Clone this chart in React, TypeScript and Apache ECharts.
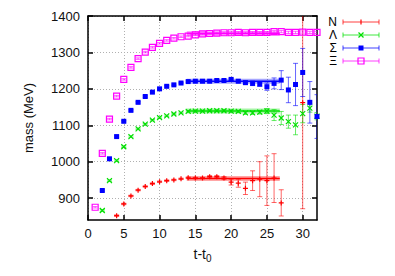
import React, { useEffect, useRef } from "react";
import * as echarts from "echarts";

// ---- data ----
const tN = [4, 5, 6, 7, 8, 9, 10, 11, 12, 13, 14, 15, 16, 17, 18, 19, 20, 21, 22, 23, 24, 25, 26, 27, 30];
const massN = [852, 884, 906, 922, 932, 940, 945, 948, 950, 953, 956, 955, 955, 959, 959, 955, 944, 941, 927, 948, 952, 948, 955, 887, 1162];
const errN = [2, 2, 2, 2, 2, 2, 2, 2, 2, 2, 2, 2, 2, 3, 3, 4, 8, 11, 17, 27, 48, 68, 67, 36, 291];

const tL = [2, 3, 4, 5, 6, 7, 8, 9, 10, 11, 12, 13, 14, 15, 16, 17, 18, 19, 20, 21, 22, 23, 24, 25, 26, 27, 28, 29, 30, 31, 32];
const massL = [866, 948, 1003, 1041, 1069, 1090, 1103, 1114, 1121, 1126, 1131, 1134, 1138, 1139, 1139, 1140, 1140, 1140, 1139, 1138, 1134, 1134, 1136, 1139, 1128, 1120, 1110, 1101, 1132, 1147, 1125];
const errL = [2, 2, 2, 2, 2, 2, 2, 2, 2, 2, 2, 2, 2, 2, 2, 2, 2, 3, 3, 3, 4, 4, 5, 7, 15, 18, 18, 27, 25, 11, 10];

const tS = [2, 3, 4, 5, 6, 7, 8, 9, 10, 11, 12, 13, 14, 15, 16, 17, 18, 19, 20, 21, 22, 23, 24, 25, 26, 27, 28, 29, 30, 31, 32];
const massS = [921, 1008, 1069, 1111, 1141, 1163, 1179, 1191, 1200, 1207, 1211, 1216, 1220, 1221, 1221, 1221, 1223, 1223, 1226, 1221, 1217, 1215, 1213, 1206, 1215, 1224, 1197, 1212, 1245, 1163, 1124];
const errS = [2, 2, 2, 2, 2, 2, 2, 2, 2, 2, 2, 2, 2, 2, 2, 2, 3, 3, 3, 4, 5, 6, 6, 10, 15, 26, 35, 58, 66, 57, 60];

const tX = [1, 2, 3, 4, 5, 6, 7, 8, 9, 10, 11, 12, 13, 14, 15, 16, 17, 18, 19, 20, 21, 22, 23, 24, 25, 26, 27, 28, 29, 30, 31, 32];
const massX = [875, 1023, 1117, 1180, 1226, 1259, 1283, 1301, 1314, 1325, 1333, 1339, 1343, 1345, 1348, 1351, 1352, 1353, 1354, 1354, 1355, 1354, 1355, 1355, 1355, 1357, 1357, 1355, 1355, 1356, 1355, 1355];
const errX = [2, 2, 2, 2, 2, 2, 2, 2, 2, 2, 2, 2, 2, 2, 2, 2, 2, 2, 2, 2, 2, 2, 2, 2, 2, 3, 3, 3, 3, 3, 3, 3];

const fitRange = [13.8, 26.8];
const fitN = 954;
const fitL = 1139;
const fitS = 1221;
const fitX = 1352;

const legendNames = ["N", "Λ", "Σ", "Ξ"];
const xTicks = [0, 5, 10, 15, 20, 25, 30];
const yTicks = [900, 1000, 1100, 1200, 1300, 1400];

const RED = "#ff0000";
const GREEN = "#00e000";
const BLUE = "#0000ff";
const MAGENTA = "#ff00ff";

const FONT = "Liberation Sans";

const PLUS = "path://M0,5L10,5M5,0L5,10";
const CROSS = "path://M0,0L10,10M10,0L0,10";

function errSeries(color: string, t: number[], m: number[], e: number[]) {
  return {
    type: "custom",
    clip: true,
    z: 2,
    data: t.map((x, i) => [x, m[i], e[i]]),
    encode: { x: 0, y: 1 },
    renderItem: (params: any, api: any) => {
      const x = api.value(0);
      const y = api.value(1);
      const er = api.value(2);
      const top = api.coord([x, y + er]);
      const bot = api.coord([x, y - er]);
      const hw = 2.5;
      const st = { stroke: color, lineWidth: 1, opacity: 0.6 };
      return {
        type: "group",
        children: [
          { type: "line", shape: { x1: top[0], y1: top[1], x2: bot[0], y2: bot[1] }, style: st },
          { type: "line", shape: { x1: top[0] - hw, y1: top[1], x2: top[0] + hw, y2: top[1] }, style: st },
          { type: "line", shape: { x1: bot[0] - hw, y1: bot[1], x2: bot[0] + hw, y2: bot[1] }, style: st },
        ],
      };
    },
  };
}

function pointSeries(color: string, t: number[], m: number[], symbol: string, size: number, open: boolean, stroke: boolean) {
  return {
    type: "scatter",
    z: 3,
    symbol,
    symbolSize: size,
    data: t.map((x, i) => [x, m[i]]),
    itemStyle: {
      color: open ? "rgba(0,0,0,0)" : color,
      borderColor: color,
      borderWidth: stroke || open ? 1.2 : 0,
      opacity: 1,
    },
  };
}

function fitSeries(color: string, v: number) {
  return [
    {
      type: "line",
      z: 4,
      symbol: "none",
      data: fitRange.map((x) => [x, v]),
      lineStyle: { color, width: 5, opacity: 0.35 },
    },
    {
      type: "line",
      z: 4,
      symbol: "none",
      data: fitRange.map((x) => [x, v]),
      lineStyle: { color, width: 1.5 },
    },
  ];
}

function legendGraphic() {
  const colors = [RED, GREEN, BLUE, MAGENTA];
  const ys = [22, 35, 48, 61];
  const x1 = 343;
  const x2 = 379;
  const xm = 361;
  const els: any[] = [];
  legendNames.forEach((name, i) => {
    const y = ys[i];
    const c = colors[i];
    const st = { stroke: c, lineWidth: 1, opacity: 0.75 };
    els.push({
      type: "text",
      x: 337,
      y: y,
      style: {
        text: name,
        font: `12px "${FONT}"`,
        fill: "#000",
        align: "right",
        verticalAlign: "middle",
        lineHeight: 12,
      },
    });
    els.push({ type: "line", shape: { x1, y1: y, x2, y2: y }, style: st });
    els.push({ type: "line", shape: { x1, y1: y - 2.5, x2: x1, y2: y + 2.5 }, style: st });
    els.push({ type: "line", shape: { x1: x2, y1: y - 2.5, x2: x2, y2: y + 2.5 }, style: st });
    if (i === 0) {
      els.push({ type: "line", shape: { x1: xm, y1: y - 2.5, x2: xm, y2: y + 2.5 }, style: { stroke: c, lineWidth: 1.2 } });
    } else if (i === 1) {
      els.push({ type: "line", shape: { x1: xm - 2.5, y1: y - 2.5, x2: xm + 2.5, y2: y + 2.5 }, style: { stroke: c, lineWidth: 1.2 } });
      els.push({ type: "line", shape: { x1: xm + 2.5, y1: y - 2.5, x2: xm - 2.5, y2: y + 2.5 }, style: { stroke: c, lineWidth: 1.2 } });
    } else if (i === 2) {
      els.push({ type: "rect", shape: { x: xm - 2.5, y: y - 2.5, width: 5, height: 5 }, style: { fill: c } });
    } else {
      els.push({ type: "rect", shape: { x: xm - 3, y: y - 3, width: 6, height: 6 }, style: { fill: "none", stroke: c, lineWidth: 1.2 } });
    }
  });
  return els;
}

export default function App() {
  const ref = useRef<HTMLDivElement>(null);
  useEffect(() => {
    if (!ref.current) return;
    const chart = echarts.init(ref.current, undefined, { renderer: "svg" });
    const axisLine = { show: true, onZero: false, lineStyle: { color: "#000", width: 1.5 } };
    const axisTick = { show: true, inside: true, length: 5, lineStyle: { color: "#000", width: 1.5 } };
    const splitLine = { show: true, lineStyle: { color: "#b0b0b0", type: [1, 2], width: 1 } };
    const labelStyle = { color: "#111", fontSize: 13, fontFamily: FONT, formatter: (v: number) => String(v) };
    const option: any = {
      animation: false,
      backgroundColor: "#fff",
      grid: { left: 88, right: 78, top: 16, bottom: 56, containLabel: false },
      xAxis: [
        {
          type: "value",
          position: "bottom",
          min: 0,
          max: 32,
          axisLine,
          axisTick: { ...axisTick, customValues: xTicks },
          axisLabel: { ...labelStyle, margin: 7, customValues: xTicks },
          splitLine,
          name: "t-t{s|0}",
          nameLocation: "middle",
          nameGap: 24,
          nameTextStyle: {
            color: "#111",
            fontSize: 14,
            fontFamily: FONT,
            rich: { s: { fontSize: 10, fontFamily: FONT, color: "#111", padding: [9, 0, 0, 0] } },
          },
        },
        {
          type: "value",
          position: "top",
          min: 0,
          max: 32,
          axisLine,
          axisTick: { ...axisTick, customValues: xTicks },
          axisLabel: { show: false },
          splitLine: { show: false },
        },
      ],
      yAxis: [
        {
          type: "value",
          position: "left",
          min: 840,
          max: 1400,
          axisLine,
          axisTick: { ...axisTick, customValues: yTicks },
          axisLabel: { ...labelStyle, margin: 8, customValues: yTicks },
          splitLine,
          name: "mass (MeV)",
          nameLocation: "middle",
          nameGap: 53,
          nameTextStyle: { color: "#111", fontSize: 13, fontFamily: FONT },
        },
        {
          type: "value",
          position: "right",
          min: 840,
          max: 1400,
          axisLine,
          axisTick: { ...axisTick, customValues: yTicks },
          axisLabel: { show: false },
          splitLine: { show: false },
        },
      ],
      series: [
        errSeries(RED, tN, massN, errN),
        pointSeries(RED, tN, massN, PLUS, 5, false, true),
        ...fitSeries(RED, fitN),
        errSeries(GREEN, tL, massL, errL),
        pointSeries(GREEN, tL, massL, CROSS, 5, false, true),
        ...fitSeries(GREEN, fitL),
        errSeries(BLUE, tS, massS, errS),
        pointSeries(BLUE, tS, massS, "rect", 5, false, false),
        ...fitSeries(BLUE, fitS),
        errSeries(MAGENTA, tX, massX, errX),
        pointSeries(MAGENTA, tX, massX, "rect", 6, true, false),
        ...fitSeries(MAGENTA, fitX),
      ],
      graphic: legendGraphic(),
    };
    chart.setOption(option);
    return () => chart.dispose();
  }, []);
  return <div ref={ref} style={{ position: "fixed", left: 0, top: 0, width: 395, height: 276 }} />;
}
